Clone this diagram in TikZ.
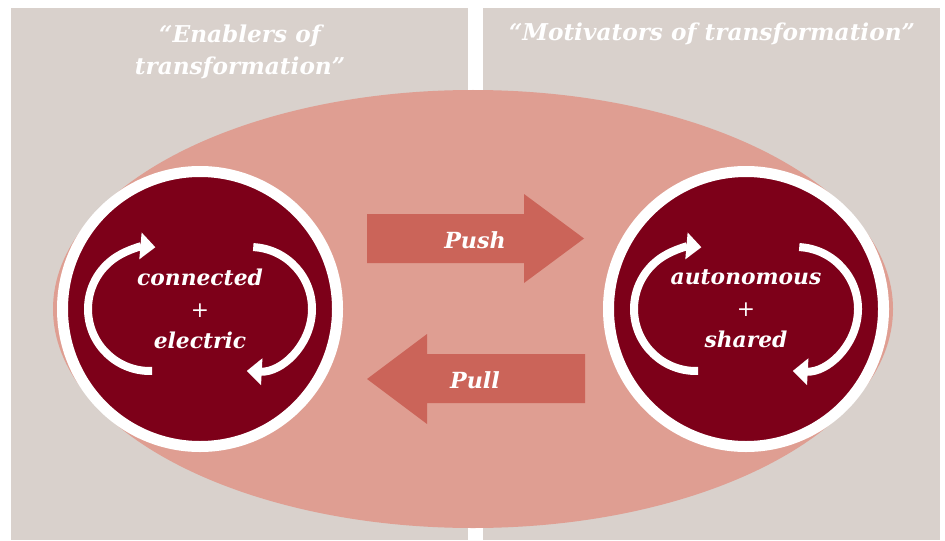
\documentclass[tikz,border=0pt]{standalone}
\usepackage{fontspec}
\setmainfont{DejaVu Serif}
\usetikzlibrary{calc,arrows.meta}
\definecolor{panelgray}{RGB}{217,209,204}
\definecolor{ovalpink}{RGB}{223,158,146}
\definecolor{arrowred}{RGB}{203,100,89}
\definecolor{wine}{RGB}{125,0,25}
\def\turnarc(#1)(#2:#3){\draw[turn] ($(#1)+(#2:1.55)$) arc (#2:#3:1.55);}

\begin{document}
\begin{tikzpicture}[
	turn/.style={draw=white, line width=2mm, -{Triangle[length=3.75mm,width=6.5mm]}},
	ring/.style={circle, fill=wine, draw=white, line width=2.75mm, minimum size=6.875cm, inner sep=0pt, text=white, align=center, font=\fontsize{15.5}{22.4}\selectfont\bfseries\itshape},
	lbl/.style={text=white, inner sep=0pt, font=\fontsize{15.8}{20}\selectfont\bfseries\itshape},
	head/.style={text=white, inner sep=0pt, align=center, font=\fontsize{16.5}{22.8}\selectfont\bfseries\itshape}
	]
			%%%%% START %%%%%
			
			\useasboundingbox (0, 0) rectangle (23.625, 13.5);
			\fill[white] (0, 0) rectangle (23.625, 13.5);
			
			\fill[panelgray] (0.275, 0) rectangle (11.7, 13.3);
			\fill[panelgray] (12.075, 0) rectangle (23.5, 13.3);
			
			\node[head, anchor=north] (enabtitle) at (6, 12.875) {“Enablers of\\transformation”};
			\node[head, anchor=base] (motitle) at (17.8, 12.475) {“Motivators of transformation”};
			
			\fill[ovalpink] (11.825, 5.775) ellipse (10.5 and 5.475);
			
			\fill[arrowred] (9.175, 8.15) -- (13.1, 8.15) -- (13.1, 8.65) -- (14.6, 7.5375) -- (13.1, 6.425) -- (13.1, 6.925) -- (9.175, 6.925) -- cycle;
			\fill[arrowred] (14.625, 4.65) -- (10.675, 4.65) -- (10.675, 5.15) -- (9.175, 4.025) -- (10.675, 2.9) -- (10.675, 3.425) -- (14.625, 3.425) -- cycle;
			
			\node[lbl, anchor=base] (push) at (11.875, 7.3) {Push};
			\node[lbl, anchor=base] (pull) at (11.875, 3.8) {Pull};
			
			\node[ring] (enablers) at (5, 5.775) {connected\\{\mdseries\upshape +}\\electric};
			\node[ring] (motivators) at (18.65, 5.775) {autonomous\\{\mdseries\upshape +}\\shared};
			
			\turnarc(3.75, 5.775)(272:85)
			\turnarc(6.25, 5.775)(87:-93)
			\turnarc(17.4, 5.775)(272:85)
			\turnarc(19.9, 5.775)(87:-93)
			
			%%%%% END %%%%%
		\end{tikzpicture}
\end{document}
